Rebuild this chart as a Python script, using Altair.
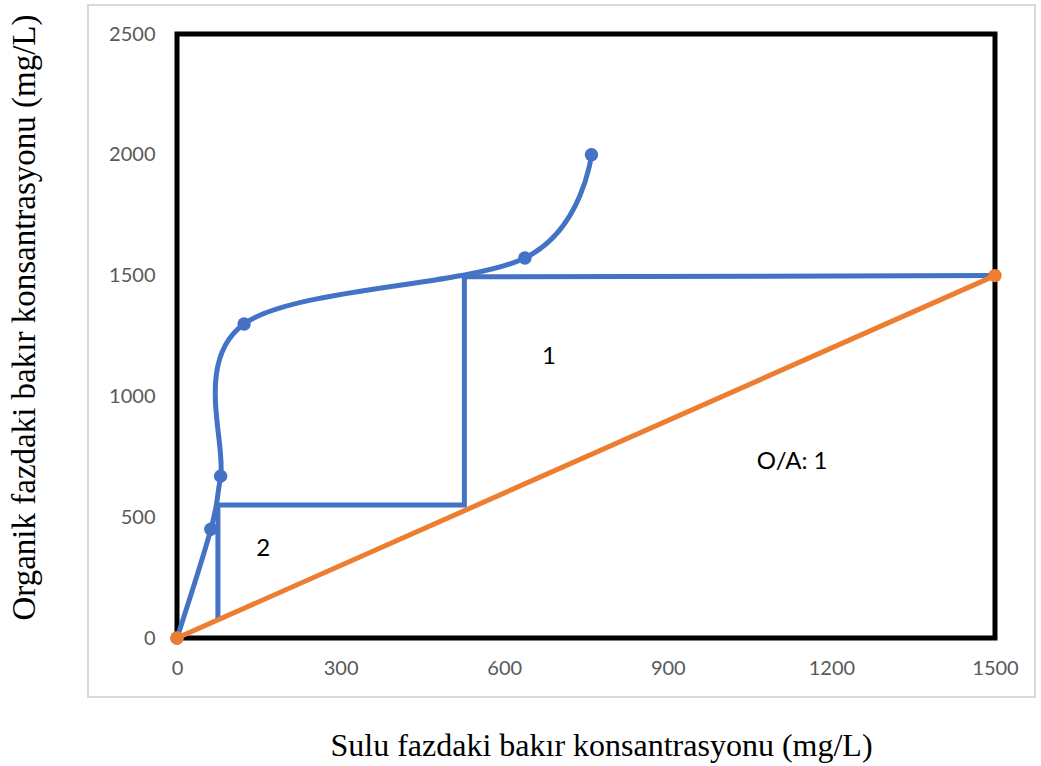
import altair as alt
import pandas as pd

# Equilibrium (extraction isotherm) points
eq_x = [0, 62, 80, 123, 638, 760]
eq_y = [0, 450, 670, 1300, 1573, 2000]

# McCabe-Thiele stage steps
step_x = [1500, 527, 527, 75, 75]
step_y = [1500, 1495, 550, 550, 75]

# Operating line, O/A = 1
op_x = [0, 1500]
op_y = [0, 1500]

# Annotations
note_text = ["1", "2", "O/A: 1"]
note_x = [682, 158, 1128]
note_y = [1163, 368, 728]

x_ticks = [0, 300, 600, 900, 1200, 1500]
y_ticks = [0, 500, 1000, 1500, 2000, 2500]

BLUE = "#4472C4"
ORANGE = "#ED7D31"

eq = pd.DataFrame({"x": eq_x, "y": eq_y, "i": range(len(eq_x))})
steps = pd.DataFrame({"x": step_x, "y": step_y, "i": range(len(step_x))})
op = pd.DataFrame({"x": op_x, "y": op_y, "i": range(len(op_x))})
notes = pd.DataFrame({"t": note_text, "x": note_x, "y": note_y})

xs = alt.Scale(domain=[0, 1500], nice=False)
ys = alt.Scale(domain=[0, 2500], nice=False)

x_axis = alt.Axis(
    values=x_ticks, format="d", title="Sulu fazdaki bakır konsantrasyonu (mg/L)",
    grid=False, ticks=False, domain=False, labelPadding=20, labelFlush=False,
    labelOverlap=False,
    labelFont="Lato", labelFontSize=20, labelColor="#595959",
    titleFont="Liberation Serif", titleFontSize=32, titleFontWeight="normal",
    titleColor="black", titleX=424, titleY=107, titleBaseline="middle",
    titleAlign="center",
)
y_axis = alt.Axis(
    values=y_ticks, format="d", title="Organik  fazdaki bakır konsantrasyonu (mg/L)",
    grid=False, ticks=False, domain=False, labelPadding=22, labelFlush=False,
    labelOverlap=False,
    labelFont="Lato", labelFontSize=20, labelColor="#595959",
    titleFont="Liberation Serif", titleFontSize=33, titleFontWeight="normal",
    titleColor="black", titleX=-153, titleY=283, titleBaseline="middle",
    titleAlign="center", titleAngle=-90,
)

X = alt.X("x:Q", scale=xs, axis=x_axis)
Y = alt.Y("y:Q", scale=ys, axis=y_axis)

# Light outer chart frame
frame = alt.Chart(pd.DataFrame({"a": [0]})).mark_rect(
    fill=None, stroke="#d9d9d9", strokeWidth=2, clip=False
).encode(
    x=alt.value(-89), x2=alt.value(858), y=alt.value(-29), y2=alt.value(663)
)

curve = alt.Chart(eq).mark_line(
    color=BLUE, strokeWidth=5, interpolate="cardinal", tension=0
).encode(x=X, y=Y, order="i:O")

curve_pts = alt.Chart(eq).mark_circle(color=BLUE, size=180, opacity=1).encode(x=X, y=Y)

stair = alt.Chart(steps).mark_line(color=BLUE, strokeWidth=5).encode(x=X, y=Y, order="i:O")

op_line = alt.Chart(op).mark_line(color=ORANGE, strokeWidth=5).encode(x=X, y=Y, order="i:O")
op_pts = alt.Chart(op).mark_circle(color=ORANGE, size=180, opacity=1).encode(x=X, y=Y)

labels = alt.Chart(notes).mark_text(
    font="Lato", fontSize=24, color="black", align="center", baseline="middle"
).encode(x=X, y=Y, text="t:N")

chart = alt.layer(
    frame, stair, curve, curve_pts, op_line, op_pts, labels
).properties(
    width=818, height=604,
    autosize=alt.AutoSizeParams(type="none"),
    padding={"left": 177, "top": 34, "right": 46, "bottom": 128},
    background="white",
).configure_view(
    stroke="black", strokeWidth=5
)

chart.save("out.html", embed_options={"renderer": "svg", "actions": False})
